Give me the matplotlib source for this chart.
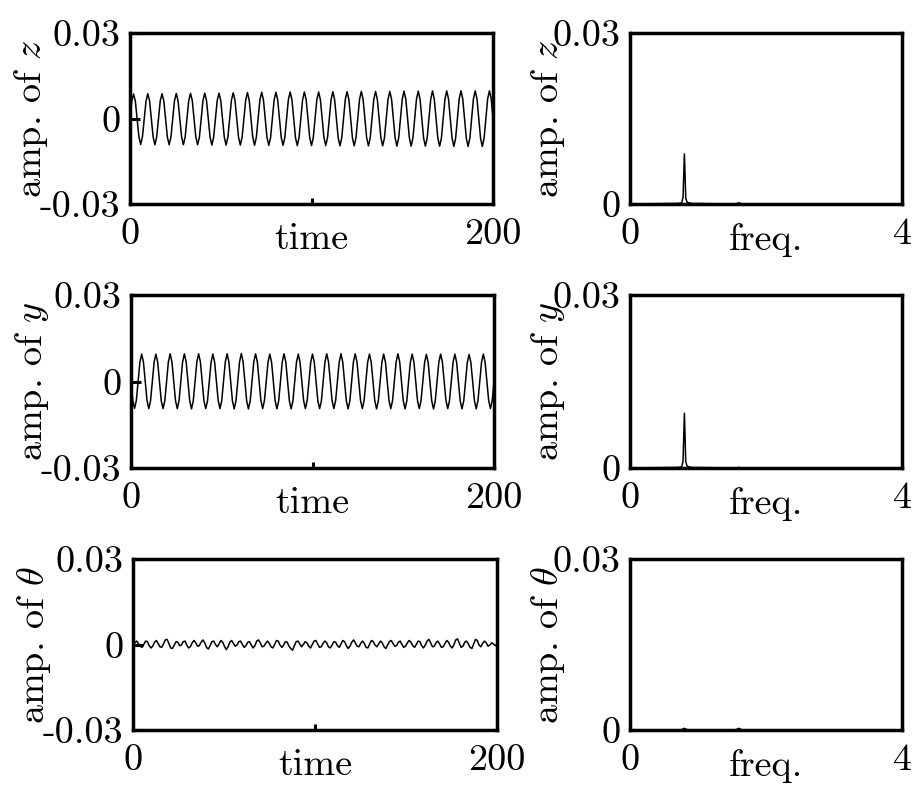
import numpy as np
import matplotlib.pyplot as plt

plt.rcParams['font.family'] = 'serif'
plt.rcParams['font.serif'] = ['cmr10']
plt.rcParams['mathtext.fontset'] = 'cm'
plt.rcParams['axes.unicode_minus'] = False

# time series, in units of 1e-4, sampled evenly over 0..200
z_vals = [
    0, 61, 86, 61, 0, -64, -91, -64,
    0, 61, 87, 62, 0, -65, -92, -65,
    0, 62, 87, 62, 0, -65, -92, -65,
    0, 62, 88, 62, 0, -65, -92, -65,
    0, 62, 88, 63, 0, -65, -92, -66,
    0, 63, 89, 63, 0, -66, -93, -66,
    0, 63, 89, 63, 0, -66, -93, -66,
    0, 64, 90, 64, 0, -66, -93, -66,
    0, 64, 91, 64, 0, -66, -94, -66,
    0, 65, 92, 65, 0, -67, -94, -67,
    0, 65, 92, 65, 0, -67, -94, -67,
    0, 66, 93, 66, 0, -67, -95, -67,
    0, 66, 93, 66, 0, -67, -95, -67,
    0, 66, 93, 66, 0, -67, -95, -67,
    0, 66, 94, 66, 0, -68, -96, -68,
    0, 67, 94, 67, 0, -68, -96, -68,
    0, 67, 95, 67, 0, -68, -96, -68,
    0, 67, 95, 67, 0, -68, -96, -68,
    0, 67, 95, 67, 0, -68, -97, -68,
    0, 68, 96, 68, 0, -68, -97, -68,
    0, 68, 96, 68, 0, -69, -97, -69,
    0, 68, 97, 68, 0, -69, -97, -69,
    0, 68, 97, 68, 0, -69, -98, -69,
    0, 69, 97, 69, 0, -69, -98, -69,
    0, 69, 97, 69, 0, -69, -98, -69,
    0, 69, 97, 69, 0,
]
y_vals = [
    0, -66, -93, -66, 0, 67, 95, 67,
    0, -66, -94, -66, 0, 67, 95, 67,
    0, -67, -94, -67, 0, 68, 96, 68,
    0, -66, -94, -66, 0, 68, 96, 68,
    0, -67, -95, -67, 0, 68, 96, 68,
    0, -67, -94, -67, 0, 67, 95, 67,
    0, -66, -94, -66, 0, 68, 96, 68,
    0, -67, -95, -67, 0, 68, 97, 68,
    0, -67, -95, -67, 0, 68, 96, 68,
    0, -66, -94, -66, 0, 67, 95, 67,
    0, -67, -95, -67, 0, 68, 96, 68,
    0, -67, -95, -67, 0, 67, 95, 67,
    0, -66, -94, -66, 0, 67, 95, 67,
    0, -67, -94, -67, 0, 68, 96, 68,
    0, -66, -94, -66, 0, 67, 96, 67,
    0, -67, -95, -67, 0, 68, 96, 68,
    0, -66, -94, -66, 0, 67, 95, 67,
    0, -67, -95, -67, 0, 67, 95, 67,
    0, -66, -94, -66, 0, 68, 96, 68,
    0, -67, -95, -67, 0, 67, 95, 67,
    0, -66, -94, -66, 0, 66, 94, 66,
    0, -67, -95, -67, 0, 67, 95, 67,
    0, -66, -94, -66, 0, 67, 95, 67,
    0, -67, -95, -67, 0, 66, 94, 66,
    0, -66, -95, -66, 0, 67, 95, 67,
    0, -66, -94, -66, 0,
]
theta_vals = [
    0, 6, 12, 4, -6, -10, 0, 12, 10, -4,
    -12, -6, 8, 14, 4, -8, -10, 2, 16, 18,
    4, -12, -14, -2, 10, 8, -4, -2, 10, 12,
    -2, -12, -8, 6, 14, 6, -6, -4, 8, 16,
    6, -10, -16, -4, 10, 12, 0, -8, 2, 14,
    8, -6, -18, -8, 8, 14, 4, -6, -2, 10,
    12, 0, -10, -4, 8, 10, -2, -12, -4, 12,
    16, 6, -8, -6, 4, 12, 4, -8, -12, 0,
    14, 12, -2, -10, -2, 10, 8, -6, -14, -20,
    -4, 10, 12, 2, -8, 0, 10, 6, -6, -12,
    0, 12, 14, 2, -10, -8, 4, 12, 6, -8,
    -12, -2, 10, 8, -4, -10, 2, 14, 10, -4,
    -14, -6, 8, 16, 6, -6, -8, 4, 12, 4,
    -10, -12, 2, 14, 10, -2, -8, 2, 12, 6,
    -8, -14, -2, 10, 14, 4, -6, -4, 8, 12,
    0, -10, -6, 6, 14, 8, -4, -10, 0, 12,
    10, -4, -12, -2, 12, 18, 6, -8, -6, 6,
    12, 2, -10, -8, 4, 14, 8, -6, -12, 0,
    16, 20, 4, -10, -6, 8, 12, 2, -10, -14,
    2, 18, 14, -2, -8, 4, 12, 6, -6, -2,
    6, 2, -4, 0,
]

# spectra (freq, amplitude)
z_freq = [0, 0.70, 0.76, 0.78, 0.80, 0.82, 0.84, 0.90, 1.55, 1.60, 1.65, 4.0]
z_amp = [0, 0.0001, 0.0002, 0.0012, 0.0088, 0.0010, 0.0003, 0.0001, 0, 0.0002, 0, 0]
y_freq = [0, 0.70, 0.76, 0.78, 0.80, 0.82, 0.84, 0.90, 1.55, 1.60, 1.65, 4.0]
y_amp = [0, 0.0001, 0.0002, 0.0012, 0.0095, 0.0011, 0.0003, 0.0001, 0, 0.0001, 0, 0]
th_freq = [0, 0.75, 0.80, 0.85, 1.55, 1.60, 1.65, 4.0]
th_amp = [0, 0, 0.0003, 0, 0, 0.0003, 0, 0]

names = ['$z$', '$y$', r'$\theta$']
series = [z_vals, y_vals, theta_vals]
spectra = [(z_freq, z_amp), (y_freq, y_amp), (th_freq, th_amp)]

W, H = 915, 786
def box(x0, x1, y0, y1):
    return [x0 / W, 1 - y1 / H, (x1 - x0) / W, (y1 - y0) / H]

left_boxes = [(130, 493, 33, 204), (131, 494, 295, 468), (133, 497, 559, 730)]
right_boxes = [(630, 902, 33, 204), (630, 902, 295, 468), (630, 902, 559, 730)]

fs = 27.5
fig = plt.figure(figsize=(9.15, 7.86), dpi=100)

for i in range(3):
    # time signal
    ax = fig.add_axes(box(*left_boxes[i]))
    vals = np.array(series[i]) * 1e-4
    t = np.linspace(0, 200, len(vals))
    ax.plot(t, vals, color='k', lw=1.1)
    ax.set_xlim(0, 200)
    ax.set_ylim(-0.03, 0.03)
    ax.set_xticks([0, 100, 200])
    ax.set_xticklabels(['0', '', '200'])
    ax.set_yticks([-0.03, 0, 0.03])
    ax.set_yticklabels(['-0.03', '0', '0.03'])
    ax.tick_params(direction='in', labelsize=fs, width=2.2)
    ax.tick_params(axis='y', length=7, pad=7)
    ax.tick_params(axis='x', length=4, pad=10)
    for s in ax.spines.values():
        s.set_linewidth(2.5)
    ax.set_ylabel('amp. of ' + names[i], fontsize=fs)
    ax.yaxis.set_label_coords(-0.22, 0.5)
    ax.set_xlabel('time', fontsize=fs)
    ax.xaxis.set_label_coords(0.5, -0.11)

    # spectrum
    ax2 = fig.add_axes(box(*right_boxes[i]))
    f, a = spectra[i]
    ax2.plot(f, a, color='k', lw=1.1)
    ax2.set_xlim(0, 4)
    ax2.set_ylim(0, 0.03)
    ax2.set_xticks([0, 4])
    ax2.set_xticklabels(['0', '4'])
    ax2.set_yticks([0, 0.03])
    ax2.set_yticklabels(['0', '0.03'])
    ax2.tick_params(direction='in', labelsize=fs, width=2.2, length=4)
    ax2.tick_params(axis='y', pad=7)
    ax2.tick_params(axis='x', pad=10)
    for s in ax2.spines.values():
        s.set_linewidth(2.5)
    ax2.set_ylabel('amp. of ' + names[i], fontsize=fs)
    ax2.yaxis.set_label_coords(-0.23, 0.5)
    ax2.set_xlabel('freq.', fontsize=fs)
    ax2.xaxis.set_label_coords(0.5, -0.11)

fig.savefig('out.png', dpi=100)
